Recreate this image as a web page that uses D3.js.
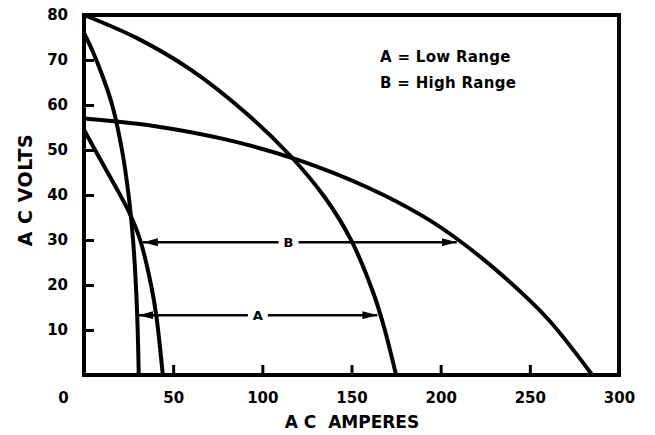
<!DOCTYPE html>
<html>
<head>
<meta charset="utf-8">
<script src="https://cdn.jsdelivr.net/npm/d3@7"></script>
<style>
  body { margin: 0; background: #fff; }
  text { font-family: "DejaVu Sans", sans-serif; font-weight: bold; fill: #000; }
</style>
</head>
<body>
<div class="chart"></div>
<script>
// tick labels
const xTicks = [0, 50, 100, 150, 200, 250, 300];
const yTicks = [10, 20, 30, 40, 50, 60, 70, 80];

// curve readings (amperes, volts)
const curve1Amps = [0, 30, 60, 90, 115, 135, 150, 162, 168, 175];
const curve1Volts = [80, 74.8, 67.8, 58.5, 49, 39.5, 29.8, 18.5, 11, 0];

const curve2Amps = [0, 40, 80, 120, 160, 190, 210, 235, 260, 285];
const curve2Volts = [57, 55.3, 52.3, 47.8, 41.5, 35.3, 30, 22, 12.5, 0];

const curve3Amps = [0, 4.8, 10.8, 15.8, 21.3, 25, 27.5, 29.1, 30.1, 30.7];
const curve3Volts = [76, 72, 66, 60, 50, 40, 30, 20, 10, 0];

const curve4Amps = [0, 9, 17.5, 25.5, 31.5, 37.6, 40.5, 44.2];
const curve4Volts = [54.5, 48, 42, 36, 30, 20, 13.3, 0];

// range arrows
const arrowNames = ["A", "B"];
const arrowVolts = [13.3, 29.5];
const arrowFrom = [30.5, 33];
const arrowTo = [164.5, 209];
const arrowLabelAt = [97.5, 114.7];

const legendLines = ["A = Low Range", "B = High Range"];

document.addEventListener('DOMContentLoaded', function(){

    let width = 655;
    let height = 435;

    let svg = d3.select('.chart')
    .append('svg')
    .attr('width', width)
    .attr('height', height);

    // scales
    const xScale = d3.scaleLinear().domain([0, 300]).range([84, 619]);
    const yScale = d3.scaleLinear().domain([0, 80]).range([375, 15]);

    // arrowhead marker
    svg.append('defs')
    .append('marker')
    .attr('id', 'head')
    .attr('viewBox', '0 0 15 8')
    .attr('refX', 15)
    .attr('refY', 4)
    .attr('markerWidth', 15)
    .attr('markerHeight', 8)
    .attr('markerUnits', 'userSpaceOnUse')
    .attr('orient', 'auto-start-reverse')
    .append('path')
    .attr('d', 'M0,0 L15,4 L0,8 Z')
    .attr('fill', '#000');

    // x axis: ticks point up into the plot
    const xAxis = d3.axisBottom(xScale)
    .tickValues(xTicks)
    .tickSizeInner(-10)
    .tickSizeOuter(0)
    .tickPadding(17);

    const gx = svg.append('g')
    .attr('transform', `translate(0, ${yScale(0)})`)
    .call(xAxis);
    gx.select('.domain').remove();
    gx.selectAll('.tick line')
    .attr('stroke', '#000')
    .attr('stroke-width', 3)
    .filter(d => d === 0 || d === 300).remove();
    gx.selectAll('.tick text')
    .attr('font-size', 15)
    .attr('dx', d => d === 0 ? -21 : 0);

    // y axis: ticks point right into the plot
    const yAxis = d3.axisLeft(yScale)
    .tickValues(yTicks)
    .tickSizeInner(-10)
    .tickSizeOuter(0)
    .tickPadding(16);

    const gy = svg.append('g')
    .attr('transform', `translate(${xScale(0)}, 0)`)
    .call(yAxis);
    gy.select('.domain').remove();
    gy.selectAll('.tick line')
    .attr('stroke', '#000')
    .attr('stroke-width', 3)
    .filter(d => d === 80).remove();
    gy.selectAll('.tick text')
    .attr('font-size', 15);

    // frame
    svg.append('rect')
    .attr('x', xScale(0))
    .attr('y', yScale(80))
    .attr('width', xScale(300) - xScale(0))
    .attr('height', yScale(0) - yScale(80))
    .attr('fill', 'none')
    .attr('stroke', '#000')
    .attr('stroke-width', 4);

    // axis titles
    svg.append('text')
    .attr('x', 352)
    .attr('y', 428)
    .attr('text-anchor', 'middle')
    .attr('font-size', 17)
    .style('white-space', 'pre')
    .text('A C  AMPERES');

    svg.append('text')
    .attr('transform', 'translate(32, 190) rotate(-90)')
    .attr('text-anchor', 'middle')
    .attr('font-size', 19)
    .attr('letter-spacing', 0.5)
    .text('A C VOLTS');

    // curves
    const line = d3.line()
    .x(d => xScale(d[0]))
    .y(d => yScale(d[1]))
    .curve(d3.curveCatmullRom.alpha(0.5));

    const curves = [
        [curve1Amps, curve1Volts],
        [curve2Amps, curve2Volts],
        [curve3Amps, curve3Volts],
        [curve4Amps, curve4Volts]
    ];

    svg.selectAll('path.curve')
    .data(curves)
    .enter()
    .append('path')
    .attr('class', 'curve')
    .attr('d', c => line(d3.zip(c[0], c[1])))
    .attr('fill', 'none')
    .attr('stroke', '#000')
    .attr('stroke-width', 4)
    .attr('stroke-linecap', 'round');

    // range arrows with labels
    arrowNames.forEach((name, i) => {
        const y = yScale(arrowVolts[i]);
        svg.append('line')
        .attr('x1', xScale(arrowFrom[i]))
        .attr('x2', xScale(arrowTo[i]))
        .attr('y1', y)
        .attr('y2', y)
        .attr('stroke', '#000')
        .attr('stroke-width', 2.5)
        .attr('marker-start', 'url(#head)')
        .attr('marker-end', 'url(#head)');

        svg.append('rect')
        .attr('x', xScale(arrowLabelAt[i]) - 10)
        .attr('y', y - 8)
        .attr('width', 20)
        .attr('height', 16)
        .attr('fill', '#fff');

        svg.append('text')
        .attr('x', xScale(arrowLabelAt[i]))
        .attr('y', y + 5)
        .attr('text-anchor', 'middle')
        .attr('font-size', 13)
        .text(name);
    });

    // legend
    svg.selectAll('text.legend')
    .data(legendLines)
    .enter()
    .append('text')
    .attr('class', 'legend')
    .attr('x', 380)
    .attr('y', (d, i) => 62 + i * 26)
    .attr('font-size', 15)
    .attr('letter-spacing', 0.3)
    .text(d => d);
});
</script>
</body>
</html>
